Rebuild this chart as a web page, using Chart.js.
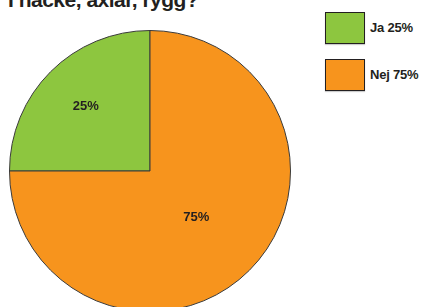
<!DOCTYPE html>
<html>
<head>
<meta charset="utf-8">
<script src="https://cdn.jsdelivr.net/npm/chart.js@4"></script>
<style>
  html, body { margin: 0; padding: 0; width: 425px; height: 307px; overflow: hidden; background: #fff; }
  #title { position: absolute; left: 8px; top: -12px; font: bold 21px "Liberation Sans Narrow", "Liberation Sans", sans-serif; color: #231f20; white-space: nowrap; letter-spacing: -0.5px; }
  #pieWrap { position: absolute; left: 0; top: 21px; width: 300px; height: 300px; }
  .lg-item { position: absolute; left: 325px; height: 32px; }
  .lg-box { position: absolute; left: 0; top: 0; width: 38px; height: 30px; border: 1px solid #231f20; box-shadow: 0 1px 1px rgba(0,0,0,0.2); }
  .lg-text { position: absolute; left: 45px; top: 8px; font: bold 13px "Liberation Sans Narrow", "Liberation Sans", sans-serif; color: #231f20; white-space: nowrap; letter-spacing: -0.2px; }
</style>
</head>
<body>
<div id="title"></div>
<div id="pieWrap"><canvas id="pie" width="300" height="300"></canvas></div>
<div id="legend"></div>
<script>
const title = "I nacke, axlar, rygg?";
const categories = ["Ja", "Nej"];
const values = [25, 75];
const colors = ["#8dc63f", "#f7941d"];

document.getElementById('title').textContent = title;

// HTML legend built from the data
const legendTops = [12, 59];
const legend = document.getElementById('legend');
categories.forEach((c, i) => {
  const item = document.createElement('div');
  item.className = 'lg-item';
  item.style.top = legendTops[i] + 'px';
  const box = document.createElement('div');
  box.className = 'lg-box';
  box.style.background = colors[i];
  const txt = document.createElement('div');
  txt.className = 'lg-text';
  txt.textContent = c + ' ' + values[i] + '%';
  item.appendChild(box);
  item.appendChild(txt);
  legend.appendChild(item);
});

const labelRadius = [0.646, 0.466];
const sliceLabels = {
  id: 'sliceLabels',
  afterDatasetsDraw(chart) {
    const ctx = chart.ctx;
    const meta = chart.getDatasetMeta(0);
    ctx.save();
    ctx.font = 'bold 13px "Liberation Sans Narrow", "Liberation Sans", sans-serif';
    ctx.fillStyle = '#231f20';
    ctx.textAlign = 'center';
    ctx.textBaseline = 'middle';
    meta.data.forEach((arc, i) => {
      const p = arc.getProps(['x', 'y', 'startAngle', 'endAngle', 'outerRadius'], true);
      const a = (p.startAngle + p.endAngle) / 2;
      const r = p.outerRadius * labelRadius[i];
      ctx.fillText(values[i] + '%', p.x + Math.cos(a) * r, p.y + Math.sin(a) * r);
    });
    ctx.restore();
  }
};

new Chart(document.getElementById('pie'), {
  type: 'pie',
  data: {
    labels: categories,
    datasets: [{
      data: values,
      backgroundColor: colors,
      borderColor: '#3a3a3a',
      borderWidth: 1,
      hoverOffset: 0
    }]
  },
  options: {
    responsive: false,
    animation: false,
    rotation: -90,
    radius: 140.5,
    layout: { padding: 0 },
    plugins: {
      legend: { display: false },
      tooltip: { enabled: false },
      title: { display: false }
    }
  },
  plugins: [sliceLabels]
});
</script>
</body>
</html>
